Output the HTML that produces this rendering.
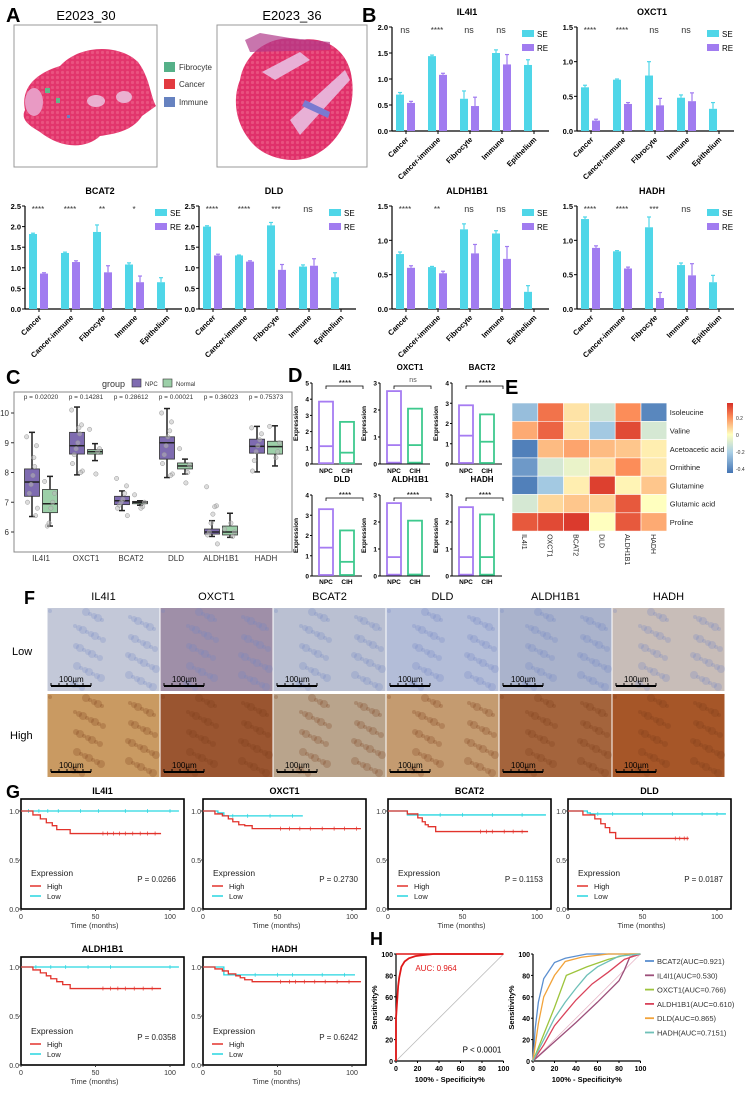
<!DOCTYPE html>
<html><head><meta charset="utf-8">
<style>
html,body{margin:0;padding:0;background:#fff;}
svg{display:block;font-family:"Liberation Sans",Arial,sans-serif;}
.b{font-weight:bold;}
</style></head>
<body>
<svg id="fig" width="745" height="1101" viewBox="0 0 745 1101" xmlns="http://www.w3.org/2000/svg">
<defs>
<pattern id="hex" width="5" height="5" patternUnits="userSpaceOnUse"><circle cx="2.5" cy="2.5" r="1.6" fill="#f06a90" opacity="0.55"/></pattern>
<linearGradient id="cbar" x1="0" y1="1" x2="0" y2="0">
<stop offset="0" stop-color="#4575b4"/><stop offset="0.3" stop-color="#abd0e6"/><stop offset="0.55" stop-color="#ffffbf"/><stop offset="0.8" stop-color="#fc8d59"/><stop offset="1" stop-color="#d73027"/></linearGradient>
</defs>
<g>
<text x="6" y="22" font-size="20" class="b">A</text>
<text x="86" y="20" font-size="13" text-anchor="middle">E2023_30</text>
<text x="292" y="20" font-size="13" text-anchor="middle">E2023_36</text>
<rect x="14" y="25" width="143" height="142" fill="#fff" stroke="#999"/>
<rect x="217" y="25" width="150" height="142" fill="#fff" stroke="#999"/>
<path d="M25,110 C20,85 40,72 60,66 C80,44 120,44 138,62 C150,78 150,95 156,106 L142,116 C132,132 112,134 100,136 C85,150 60,148 40,132 C30,126 20,120 25,110Z" fill="#e2356c"/>
<path d="M25,110 C20,85 40,72 60,66 C80,44 120,44 138,62 C150,78 150,95 156,106 L142,116 C132,132 112,134 100,136 C85,150 60,148 40,132 C30,126 20,120 25,110Z" fill="url(#hex)"/>
<ellipse cx="34" cy="102" rx="9" ry="14" fill="#e99ac4"/>
<ellipse cx="96" cy="101" rx="9" ry="6" fill="#eab0d0"/>
<ellipse cx="124" cy="97" rx="8" ry="6" fill="#eab0d0"/>
<rect x="45" y="88" width="5" height="5" fill="#5fb88a"/><rect x="56" y="98" width="4" height="5" fill="#5fb88a"/><rect x="67" y="115" width="3" height="3" fill="#6a80c0"/>
<path d="M240,80 C245,50 275,33 300,40 C330,35 350,55 352,80 C356,110 340,140 320,152 C300,166 270,160 255,146 C235,126 232,100 240,80Z" fill="#e0306a"/>
<path d="M240,80 C245,50 275,33 300,40 C330,35 350,55 352,80 C356,110 340,140 320,152 C300,166 270,160 255,146 C235,126 232,100 240,80Z" fill="url(#hex)"/>
<path d="M262,72 L300,52 L310,60 L275,80Z M290,120 L345,70 L350,80 L300,135Z" fill="#e8b0d6"/>
<path d="M305,100 L330,112 L328,118 L302,106Z" fill="#7a7ad0"/>
<path d="M245,40 L260,33 L290,38 L330,42 L330,50 L250,52Z" fill="#b03a8a" opacity="0.7"/>
<g>
<rect x="164" y="62" width="11" height="10" fill="#55b088"/><text x="179" y="70" font-size="8" fill="#333">Fibrocyte</text>
<rect x="164" y="79" width="11" height="10" fill="#e23a40"/><text x="179" y="87" font-size="8" fill="#333">Cancer</text>
<rect x="164" y="97" width="11" height="10" fill="#6682c0"/><text x="179" y="105" font-size="8" fill="#333">Immune</text>
</g>
</g>
<text x="362" y="22" font-size="20" class="b">B</text>
<text x="6" y="384" font-size="20" class="b">C</text>
<text x="288" y="382" font-size="20" class="b">D</text>
<text x="505" y="394" font-size="20" class="b">E</text>
<text x="24" y="604" font-size="18" class="b">F</text>
<text x="6" y="798" font-size="18" class="b">G</text>
<text x="370" y="945" font-size="18" class="b">H</text>
<g id="gB"></g>
<g id="gC"></g>
<g id="gD"></g>
<g id="gE"></g>
<g id="gF"></g>
<g id="gG"></g>
<g id="gH"></g>
</svg>
<script>
const bCategories = ["Cancer","Cancer-immune","Fibrocyte","Immune","Epithelium"];
const bGenes = ["IL4I1","OXCT1","BCAT2","DLD","ALDH1B1","HADH"];
const bYMax = [2.0,1.5,2.5,2.5,1.5,1.5];
const bSE = [[0.70,1.44,0.62,1.50,1.27],[0.63,0.74,0.80,0.48,0.32],[1.82,1.36,1.87,1.08,0.65],[2.00,1.30,2.03,1.03,0.77],[0.80,0.61,1.16,1.10,0.25],[1.31,0.84,1.19,0.64,0.39]];
const bSEerr = [[0.04,0.02,0.15,0.06,0.10],[0.03,0.01,0.20,0.04,0.09],[0.02,0.02,0.17,0.04,0.11],[0.02,0.01,0.07,0.04,0.11],[0.03,0.01,0.08,0.04,0.09],[0.03,0.01,0.15,0.03,0.10]];
const bRE = [[0.54,1.08,0.48,1.28,null],[0.15,0.39,0.37,0.43,null],[0.86,1.14,0.89,0.65,null],[1.30,1.15,0.95,1.05,null],[0.60,0.52,0.81,0.73,null],[0.89,0.59,0.16,0.49,null]];
const bREerr = [[0.03,0.03,0.17,0.19,0],[0.02,0.02,0.10,0.12,0],[0.02,0.03,0.16,0.15,0],[0.03,0.02,0.13,0.17,0],[0.03,0.03,0.13,0.18,0],[0.03,0.02,0.08,0.17,0]];
const bSig = [["ns","****","ns","ns"],["****","****","ns","ns"],["****","****","**","*"],["****","****","***","ns"],["****","**","ns","ns"],["****","****","***","ns"]];

const cGenes = ["IL4I1","OXCT1","BCAT2","DLD","ALDH1B1","HADH"];
const cPvals = ["p = 0.02020","p = 0.14281","p = 0.28612","p = 0.00021","p = 0.36023","p = 0.75373"];
const cNPC = [[6.52,7.2,7.68,8.12,9.35],[7.92,8.62,8.9,9.35,10.2],[6.72,6.92,7.05,7.2,7.38],[7.83,8.45,9.0,9.2,10.15],[5.85,5.93,6.0,6.1,6.38],[8.02,8.65,8.88,9.12,9.55]];
const cNormal = [[6.2,6.65,6.95,7.43,7.87],[8.4,8.62,8.7,8.77,8.97],[6.9,6.95,7.0,7.03,7.05],[7.95,8.12,8.22,8.32,8.45],[5.82,5.9,6.0,6.2,6.63],[8.22,8.62,8.87,9.05,9.57]];
const cNPCpts = [[9.2,8.9,8.2,7.9,7.6,7.3,7.0,6.8,6.55,8.5],[10.1,9.6,9.3,9.0,8.8,8.6,8.3,8.05,8.0,9.5],[7.8,7.55,7.3,7.1,7.0,6.9,6.8,6.55],[10.0,9.7,9.4,9.2,8.9,8.6,8.3,7.95,7.9],[7.52,6.88,6.85,6.6,6.3,6.0,5.9,5.6],[9.5,9.3,9.1,8.9,8.7,8.4,8.05]];
const cNormalPts = [[7.7,7.3,7.0,6.8,6.3,6.2],[9.45,8.8,8.7,7.95],[7.25,7.0,6.85,6.8],[8.8,8.25,8.0,7.65],[6.1,6.0,5.85,6.3],[9.55,9.0,8.7,8.5]];

const dGenes = ["IL4I1","OXCT1","BACT2","DLD","ALDH1B1","HADH"];
const dYMax = [5,3,4,4,3,3];
const dSig = ["****","ns","****","****","****","****"];
const dNPC = [[0.05,1.1,3.85],[0.05,0.7,2.7],[0.05,1.4,2.9],[0.05,1.4,3.3],[0.05,0.7,2.7],[0.05,0.7,2.55]];
const dCIH = [[0.05,0.7,2.6],[0.05,0.7,2.05],[0.05,1.1,2.45],[0.05,0.7,2.25],[0.05,0.05,2.05],[0.05,0.7,2.28]];

const eRows = ["Isoleucine","Valine","Acetoacetic acid","Ornithine","Glutamine","Glutamic acid","Proline"];
const eCols = ["IL4I1","OXCT1","BCAT2","DLD","ALDH1B1","HADH"];
const eVals = [[-0.25,0.25,0.05,-0.12,0.2,-0.4],[0.15,0.28,0.05,-0.22,0.33,-0.1],[-0.42,0.12,0.16,0.12,0.1,0.03],[-0.35,-0.1,-0.05,0.05,0.2,0.04],[-0.42,-0.22,0.03,0.35,0.02,0.1],[-0.1,0.07,0.1,0.08,0.3,0.0],[0.3,0.33,0.36,0.0,0.3,0.15]];
const eTicks = [0.2,0,-0.2,-0.4];

const fGenes = ["IL4I1","OXCT1","BCAT2","DLD","ALDH1B1","HADH"];
const fLowColor = ["#c3c8d8","#9f8fa8","#bac0d2","#b3bdd8","#aab3cc","#c8bdb8"];
const fHighColor = ["#c99a62","#9a5530","#b9a48c","#c49b70","#a4643c","#a65628"];

const gGenes = ["IL4I1","OXCT1","BCAT2","DLD","ALDH1B1","HADH"];
const gP = ["P = 0.0266","P = 0.2730","P = 0.1153","P = 0.0187","P = 0.0358","P = 0.6242"];
const gHighT = [[0,8,13,17,21,24,27,33,94],[0,8,13,17,20,24,28,33,106],[0,13,20,23,25,27,32,94],[0,10,18,22,25,28,32,81],[0,8,13,17,20,24,28,33,94],[0,8,13,17,22,25,28,33,106]];
const gHighS = [[1,.96,.92,.88,.85,.81,.81,.77,.77],[1,.97,.95,.92,.89,.86,.85,.82,.82],[1,.97,.93,.89,.86,.84,.79,.79],[1,.96,.92,.87,.83,.78,.72,.72],[1,.97,.94,.91,.88,.85,.82,.78,.78],[1,.98,.96,.93,.91,.89,.87,.85,.85]];
const gLowT = [[0,106],[0,10,14,67],[0,13,106],[0,13,15,106],[0,106],[0,14,102]];
const gLowS = [[1,1],[1,.98,.95,.95],[1,.96,.96],[1,.98,.97,.97],[1,1],[1,.92,.92]];
const gCensorHigh = [[55,58,62,66,70,75,80,85,90],[52,58,65,72,80,88,95,103],[62,66,70,78,84,90],[72,75,78,80],[55,60,65,70,76,82,88],[52,58,62,68,75,82,90,98]];
const gCensorLow = [[5,12,18,25,40,52,70,85,100],[20,30,45,60],[20,35,50,70,90],[20,30,50,70,90,100],[10,20,30,45,60,100],[35,50,60,80,95]];

const hMainF = [0,0,1,2,3,5,8,12,18,25,35,100];
const hMainT = [0,40,55,70,78,88,93,96,98,99,100,100];
const hNames = ["BCAT2(AUC=0.921)","IL4I1(AUC=0.530)","OXCT1(AUC=0.766)","ALDH1B1(AUC=0.610)","DLD(AUC=0.865)","HADH(AUC=0.7151)"];
const hColors = ["#5b8fd0","#9c4f7a","#9dc43c","#d9435a","#f2a33a","#6fc0b8"];
const hF = [[0,2,5,10,20,30,50,100],[0,20,40,60,80,85,90,100],[0,10,20,31,50,70,90,100],[0,10,20,30,40,55,70,85,100],[0,5,10,20,30,45,70,100],[0,10,20,30,40,50,60,80,100]];
const hT = [[0,30,55,77,92,96,100,100],[0,18,36,55,75,85,97,100],[0,25,50,80,88,95,100,100],[0,15,33,45,57,72,83,95,100],[0,35,60,80,93,97,100,100],[0,20,40,55,68,80,88,98,100]];
const hTicks = [0,20,40,60,80,100];

const NS="http://www.w3.org/2000/svg";
function mk(tag,parent,attrs){const e=document.createElementNS(NS,tag);for(const k in attrs)e.setAttribute(k,attrs[k]);parent.appendChild(e);return e;}
function tx(parent,x,y,s,size,opts){const e=mk("text",parent,Object.assign({x:x,y:y,"font-size":size},opts||{}));e.textContent=s;return e;}

(function(){
const g=document.getElementById("gB");
const ox=[392,577,25,199,392,577], y0s=[131,131,309,309,309,309], yts=[27,27,206,206,206,206];
bGenes.forEach((gene,k)=>{
 const O=ox[k],Y0=y0s[k],YT=yts[k],M=bYMax[k];
 const ys=v=>Y0-(v/M)*(Y0-YT);
 const ch=mk("g",g,{});
 
 
 tx(ch,O+75,YT-12,gene,9,{"text-anchor":"middle","font-weight":"bold"});
 mk("line",ch,{x1:O,y1:YT,x2:O,y2:Y0,stroke:"#000","stroke-width":1.2});
 mk("line",ch,{x1:O,y1:Y0,x2:O+157,y2:Y0,stroke:"#000","stroke-width":1.2});
 for(let v=0;v<=M+1e-9;v+=0.5){const y=ys(v);mk("line",ch,{x1:O-3,y1:y,x2:O,y2:y,stroke:"#000"});tx(ch,O-4,y+3,v.toFixed(1),7.5,{"text-anchor":"end","font-weight":"bold"});}
 bCategories.forEach((c,i)=>{
  const t=O+14+i*32;
  mk("line",ch,{x1:t,y1:Y0,x2:t,y2:Y0+3,stroke:"#000"});
  const lab=tx(ch,t+3,Y0+9,c,7.5,{"text-anchor":"end","font-weight":"bold",transform:"rotate(-45 "+(t+3)+" "+(Y0+9)+")"});
  
  
  const se=bSE[k][i];
  const r=mk("rect",ch,{x:t-10,y:ys(se),width:8,height:Y0-ys(se),fill:"#4fd6e8"});
  
  
  mk("line",ch,{x1:t-6,y1:ys(se),x2:t-6,y2:ys(se+bSEerr[k][i]),stroke:"#4fd6e8","stroke-width":1.2});
  mk("line",ch,{x1:t-8,y1:ys(se+bSEerr[k][i]),x2:t-4,y2:ys(se+bSEerr[k][i]),stroke:"#4fd6e8","stroke-width":1.2});
  const re=bRE[k][i];
  if(re!==null){
   const r2=mk("rect",ch,{x:t+1,y:ys(re),width:8,height:Y0-ys(re),fill:"#a17cf0"});
   
   
   mk("line",ch,{x1:t+5,y1:ys(re),x2:t+5,y2:ys(re+bREerr[k][i]),stroke:"#a17cf0","stroke-width":1.2});
   mk("line",ch,{x1:t+3,y1:ys(re+bREerr[k][i]),x2:t+7,y2:ys(re+bREerr[k][i]),stroke:"#a17cf0","stroke-width":1.2});
  }
  if(i<4){const s=bSig[k][i];tx(ch,t-1,YT+6,s,s==="ns"?9:8,{"text-anchor":"middle",fill:"#333"});}
 });
 const lg=mk("g",ch,{});
 
 
 mk("rect",lg,{x:O+130,y:YT+3,width:12,height:7,fill:"#4fd6e8"});tx(lg,O+145,YT+10,"SE",8);
 mk("rect",lg,{x:O+130,y:YT+17,width:12,height:7,fill:"#a17cf0"});tx(lg,O+145,YT+24,"RE",8);
});
})();

(function(){
const g=document.getElementById("gC");
const ys=v=>413-(v-10)*29.75;
const cx=i=>41+i*45;
mk("rect",g,{x:14,y:392,width:278,height:160,fill:"#fff",stroke:"#888"});
tx(g,102,387,"group",9,{fill:"#333"});
mk("rect",g,{x:132,y:379,width:9,height:8,fill:"#7e6bb0",stroke:"#333","stroke-width":0.6});tx(g,145,386,"NPC",6,{fill:"#333"});
mk("rect",g,{x:163,y:379,width:9,height:8,fill:"#9ccfa8",stroke:"#333","stroke-width":0.6});tx(g,176,386,"Normal",6,{fill:"#333"});
[6,7,8,9,10].forEach(v=>{mk("line",g,{x1:11,y1:ys(v),x2:14,y2:ys(v),stroke:"#333"});tx(g,9,ys(v)+3,String(v),8,{"text-anchor":"end",fill:"#333"});});
cGenes.forEach((gene,i)=>{
 const c=cx(i);
 tx(g,c,399,cPvals[i],6.5,{"text-anchor":"middle",fill:"#333"});
 tx(g,c,561,gene,8,{"text-anchor":"middle",fill:"#333"});
 [[cNPC[i],cNPCpts[i],-9,"#7e6bb0"],[cNormal[i],cNormalPts[i],9,"#9ccfa8"]].forEach(([s,pts,off,col],j)=>{
  const x=c+off;
  const bx=mk("g",g,{});
  
  
  mk("line",bx,{x1:x,y1:ys(s[0]),x2:x,y2:ys(s[4]),stroke:"#222","stroke-width":1.5});
  mk("line",bx,{x1:x-3,y1:ys(s[0]),x2:x+3,y2:ys(s[0]),stroke:"#222","stroke-width":1.5});
  mk("line",bx,{x1:x-3,y1:ys(s[4]),x2:x+3,y2:ys(s[4]),stroke:"#222","stroke-width":1.5});
  mk("rect",bx,{x:x-7.5,y:ys(s[3]),width:15,height:ys(s[1])-ys(s[3]),fill:col,stroke:"#333","stroke-width":0.8});
  mk("line",bx,{x1:x-7.5,y1:ys(s[2]),x2:x+7.5,y2:ys(s[2]),stroke:"#222","stroke-width":1.5});
  pts.forEach((v,n)=>{mk("circle",bx,{cx:x+((n*37)%13-6)*0.9,cy:ys(v),r:2.2,fill:"#bbb","fill-opacity":0.5,stroke:"#999","stroke-width":0.5});});
 });
});
})();

(function(){
const g=document.getElementById("gD");
const axX=[312,380,452], row=[[383,464,370,473],[495,576,482,584]];
dGenes.forEach((gene,k)=>{
 const O=axX[k%3],[YT,Y0,TY,LY]=row[Math.floor(k/3)],M=dYMax[k];
 const ys=v=>Y0-(v/M)*(Y0-YT);
 const ch=mk("g",g,{});
 
 
 tx(ch,O+30,TY,gene,8,{"text-anchor":"middle","font-weight":"bold"});
 mk("line",ch,{x1:O,y1:YT,x2:O,y2:Y0,stroke:"#000"});
 mk("line",ch,{x1:O,y1:Y0,x2:O+50,y2:Y0,stroke:"#000"});
 for(let v=0;v<=M;v++){mk("line",ch,{x1:O-2,y1:ys(v),x2:O,y2:ys(v),stroke:"#000"});tx(ch,O-3,ys(v)+2.5,String(v),6.5,{"text-anchor":"end","font-weight":"bold"});}
 tx(ch,O-14,(YT+Y0)/2,"Expression",6.5,{"text-anchor":"middle","font-weight":"bold",transform:"rotate(-90 "+(O-14)+" "+((YT+Y0)/2)+")"});
 [[dNPC[k],O+7,"#a67cf2","NPC"],[dCIH[k],O+28,"#3ec98e","CIH"]].forEach(([s,x,col,lab])=>{
  const r=mk("rect",ch,{x:x,y:ys(s[2]),width:14,height:ys(s[0])-ys(s[2]),fill:"none",stroke:col,"stroke-width":1.8});
  
  
  mk("line",ch,{x1:x,y1:ys(s[1]),x2:x+14,y2:ys(s[1]),stroke:col,"stroke-width":1.8});
  tx(ch,x+7,LY,lab,6.5,{"text-anchor":"middle","font-weight":"bold"});
 });
 mk("path",ch,{d:"M"+(O+14)+","+(YT+6)+" v-3 h37 v3",fill:"none",stroke:"#000","stroke-width":0.8});
 tx(ch,O+33,YT+(dSig[k]==="ns"?-1:3),dSig[k],dSig[k]==="ns"?7:8,{"text-anchor":"middle",fill:dSig[k]==="ns"?"#555":"#000"});
});
})();

(function(){
const g=document.getElementById("gE");
const X0=512,Y0=403,cw=25.8,rh=18.3;
function col(v){const st=[[-0.45,[69,117,180]],[-0.2,[171,208,230]],[0,[255,255,191]],[0.2,[252,141,89]],[0.38,[215,48,39]]];
 v=Math.max(-0.45,Math.min(0.38,v));for(let i=0;i<st.length-1;i++){const a=st[i],b=st[i+1];if(v<=b[0]){const t=(v-a[0])/(b[0]-a[0]);return "rgb("+a[1].map((c,j)=>Math.round(c+(b[1][j]-c)*t)).join(",")+")";}}return "rgb(215,48,39)";}
eRows.forEach((r,i)=>{
 eCols.forEach((c,j)=>{
  const cell=mk("rect",g,{x:X0+j*cw,y:Y0+i*rh,width:cw,height:rh,fill:col(eVals[i][j]),stroke:"#fff","stroke-width":0.6});
  
  
 });
 tx(g,X0+6*cw+3,Y0+i*rh+rh/2+3,r,7.5,{fill:"#222"});
});
eCols.forEach((c,j)=>{const x=X0+j*cw+cw/2-3,y=Y0+7*rh+3;tx(g,x,y,c,7,{fill:"#222",transform:"rotate(90 "+x+" "+y+")"});});
const cb=mk("rect",g,{x:727,y:403,width:6,height:70,fill:"url(#cbar)"});


eTicks.forEach(t=>{const y=473-(t+0.45)/0.83*70;tx(g,736,y+2,String(t),5,{fill:"#333"});});
})();

(function(){
const g=document.getElementById("gF");
const x0=47,w=113;
tx(g,12,655,"Low",11);tx(g,10,739,"High",11);
fGenes.forEach((gene,i)=>{
 const x=x0+i*w;
 tx(g,x+w/2,600,gene,11,{"text-anchor":"middle"});
 [[fLowColor[i],608,"low"],[fHighColor[i],694,"high"]].forEach(([c,y,lv])=>{
  const im=mk("g",g,{});
  
  
  mk("rect",im,{x:x+0.5,y:y,width:w-1,height:83,fill:c});
  for(let n=0;n<60;n++){const px=x+3+((n*53)%107),py=y+3+((n*29)%78);mk("circle",im,{cx:px,cy:py,r:2+(n%3),fill:lv==="low"?"#6f84c4":"#7a3a18",opacity:0.25});}
  mk("line",im,{x1:x+4,y1:y+78,x2:x+44,y2:y+78,stroke:"#000","stroke-width":2});
  for(let t=0;t<6;t++)mk("line",im,{x1:x+4+t*8,y1:y+78,x2:x+4+t*8,y2:y+75,stroke:"#000"});
  tx(im,x+12,y+74,"100µm",8);
 });
});
})();

(function(){
const g=document.getElementById("gG");
const L=[21,203,388,568,21,203],TOP=[799,799,799,799,957,957],BOT=[909,909,909,909,1065,1065],W=163;
gGenes.forEach((gene,k)=>{
 const l=L[k],top=TOP[k],bot=BOT[k];
 const xs=t=>l+t*1.49, ys=s=>bot-s*98;
 const ch=mk("g",g,{});
 
 
 tx(ch,l+W/2,top-5,gene,9,{"text-anchor":"middle","font-weight":"bold"});
 mk("rect",ch,{x:l,y:top,width:W,height:bot-top,fill:"none",stroke:"#000","stroke-width":1.6});
 [0,0.5,1].forEach(s=>{mk("line",ch,{x1:l-2,y1:ys(s),x2:l,y2:ys(s),stroke:"#333"});tx(ch,l-2,ys(s)+3,s.toFixed(1),7,{"text-anchor":"end",fill:"#333"});});
 [0,50,100].forEach(t=>{mk("line",ch,{x1:xs(t),y1:bot,x2:xs(t),y2:bot+2,stroke:"#333"});tx(ch,xs(t),bot+10,String(t),7,{"text-anchor":"middle",fill:"#333"});});
 tx(ch,l+W/2-8,bot+19,"Time (months)",7.5,{"text-anchor":"middle",fill:"#333"});
 function step(T,S,col,cens,nm){let d="M"+xs(T[0])+","+ys(S[0]);for(let i=1;i<T.length;i++){d+=" H"+xs(T[i])+" V"+ys(S[i]);}
  const p=mk("path",ch,{d:d,fill:"none",stroke:col,"stroke-width":1.3});
  
  
  cens.forEach(c=>{let s=S[0];for(let i=0;i<T.length;i++)if(T[i]<=c)s=S[i];mk("line",ch,{x1:xs(c),y1:ys(s)-2,x2:xs(c),y2:ys(s)+2,stroke:col,"stroke-width":0.7});});}
 step(gLowT[k],gLowS[k],"#27d6e0",gCensorLow[k],"survival-curve-low");
 step(gHighT[k],gHighS[k],"#e2332c",gCensorHigh[k],"survival-curve-high");
 tx(ch,l+10,top+77,"Expression",8.5,{fill:"#222"});
 mk("line",ch,{x1:l+9,y1:top+87,x2:l+20,y2:top+87,stroke:"#e2332c","stroke-width":1.5});tx(ch,l+26,top+90,"High",7.5,{fill:"#222"});
 mk("line",ch,{x1:l+9,y1:top+97,x2:l+20,y2:top+97,stroke:"#27d6e0","stroke-width":1.5});tx(ch,l+26,top+100,"Low",7.5,{fill:"#222"});
 tx(ch,l+W-8,top+83,gP[k],8,{"text-anchor":"end",fill:"#222"});
});
})();

(function(){
const g=document.getElementById("gH");
const X=[396,533];
X.forEach((x0,k)=>{
 const xs=f=>x0+f*1.075, ys=t=>1061-t*1.07;
 const ch=mk("g",g,{});
 
 
 mk("line",ch,{x1:x0,y1:ys(0),x2:x0,y2:ys(100),stroke:"#000","stroke-width":1.2});
 mk("line",ch,{x1:x0,y1:ys(0),x2:xs(100),y2:ys(0),stroke:"#000","stroke-width":1.2});
 hTicks.forEach(t=>{mk("line",ch,{x1:x0-2,y1:ys(t),x2:x0,y2:ys(t),stroke:"#000"});tx(ch,x0-3,ys(t)+3,String(t),7,{"text-anchor":"end","font-weight":"bold"});
  mk("line",ch,{x1:xs(t),y1:ys(0),x2:xs(t),y2:ys(0)+2,stroke:"#000"});tx(ch,xs(t),ys(0)+10,String(t),7,{"text-anchor":"middle","font-weight":"bold"});});
 tx(ch,xs(50),ys(0)+21,"100% - Specificity%",7.5,{"text-anchor":"middle","font-weight":"bold"});
 tx(ch,x0-19,ys(50),"Sensitivity%",7.5,{"text-anchor":"middle","font-weight":"bold",transform:"rotate(-90 "+(x0-19)+" "+ys(50)+")"});
 mk("line",ch,{x1:xs(0),y1:ys(0),x2:xs(100),y2:ys(100),stroke:k?"#e8b8c8":"#bbb","stroke-width":0.8});
 if(k===0){
  mk("line",ch,{x1:x0,y1:ys(100),x2:xs(100),y2:ys(100),stroke:"#e01818","stroke-width":1.5});
  const p=mk("polyline",ch,{points:hMainF.map((f,i)=>xs(f)+","+ys(hMainT[i])).join(" "),fill:"none",stroke:"#e01818","stroke-width":1.8});
  
  
  tx(ch,xs(18),ys(84),"AUC: 0.964",8,{fill:"#e01818"});
  tx(ch,xs(98),ys(8),"P < 0.0001",8,{"text-anchor":"end"});
 } else {
  hNames.forEach((n,i)=>{
   const p=mk("polyline",ch,{points:hF[i].map((f,j)=>xs(f)+","+ys(hT[i][j])).join(" "),fill:"none",stroke:hColors[i],"stroke-width":1.3});
   
   
   const le=mk("g",ch,{});
   
   
   mk("line",le,{x1:645,y1:961+i*14.3,x2:654,y2:961+i*14.3,stroke:hColors[i],"stroke-width":1.8});
   tx(le,657,964+i*14.3,n,7.5,{fill:"#333"});
  });
 }
});
})();
</script>
</body></html>
